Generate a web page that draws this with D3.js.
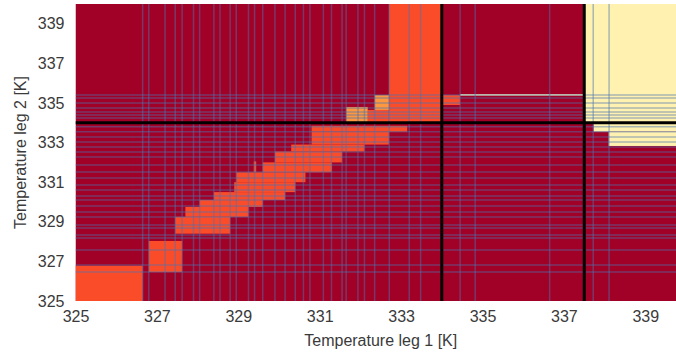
<!DOCTYPE html>
<html>
<head>
<meta charset="utf-8">
<script src="https://cdn.jsdelivr.net/npm/d3@7"></script>
<style>
  html, body { margin: 0; padding: 0; background: #ffffff; }
  svg { display: block; }
  text { font-family: "Liberation Sans", Arial, sans-serif; fill: #3a3a3a; }
</style>
</head>
<body>
<svg id="chart" width="676" height="356"></svg>
<script>
// Temperature ranges of the two legs [K]
const xDomain = [325, 340];
const yDomain = [325, 340];
const xTicks = [325, 327, 329, 331, 333, 335, 337, 339];
const yTicks = [325, 327, 329, 331, 333, 335, 337, 339];

// Operating-state levels and their colours
const levels = ["low", "mid", "high", "top"];
const levelColors = ["#a10027", "#fb4c2a", "#fd9840", "#fff2b0"];

// Mesh cell boundaries of the sampled grid [K]
const xEdges = [326.65, 326.8, 327.2, 327.45, 327.62, 327.9, 328.05, 328.4, 328.55, 328.8,
  328.95, 329.25, 329.4, 329.6, 329.9, 330.15, 330.4, 330.6, 330.76, 331.09, 331.29,
  331.55, 331.65, 331.94, 332.1, 332.35, 332.71, 333.2, 333.48, 334.45, 334.82,
  336.65, 337.72, 338.11];
const yEdges = [335.4, 335.25, 335.0, 334.75, 334.55, 334.4, 334.24, 333.8, 333.55,
  333.28, 333.03, 332.78, 332.53, 332.27, 331.87, 331.52, 331.21, 330.86, 330.61,
  330.3, 330.1, 329.8, 329.49, 329.24, 328.84, 328.69, 328.33, 328.18, 327.58,
  326.82, 326.46];

// Regions of constant state: [x0, x1, y0, y1, level]
const regions = [
  [325, 340, 325, 340, "low"],
  [325, 326.65, 325, 326.78, "mid"],
  [326.8, 327.62, 326.46, 328.03, "mid"],
  [327.45, 328.8, 328.4, 329.25, "mid"],
  [327.7, 329.25, 329.25, 329.75, "mid"],
  [328.05, 329.6, 329.75, 330.1, "mid"],
  [328.4, 330.15, 330.1, 330.5, "mid"],
  [328.9, 330.4, 330.5, 331.0, "mid"],
  [328.95, 330.65, 331.0, 331.5, "mid"],
  [329.6, 331.3, 331.5, 332.0, "mid"],
  [329.38, 329.44, 331.5, 332.05, "mid"],
  [329.9, 331.55, 332.0, 332.55, "mid"],
  [330.3, 332.1, 332.55, 332.9, "mid"],
  [330.8, 332.7, 332.9, 333.55, "mid"],
  [330.8, 333.15, 333.55, 333.85, "mid"],
  [332.7, 334, 334, 340, "mid"],
  [332.18, 332.7, 334, 334.65, "mid"],
  [332.35, 332.7, 334.65, 335.4, "high"],
  [331.65, 332.18, 334, 334.8, "high"],
  [334, 334.45, 334.9, 335.4, "mid"],
  [334.45, 337.5, 335.37, 335.45, "top"],
  [337.5, 340, 334, 340, "top"],
  [337.73, 340, 333.55, 334, "top"],
  [338.1, 340, 332.83, 333.55, "top"]
];

// State boundaries (thick lines)
const boundaryX = [334, 337.5];
const boundaryY = [334];

const svg = d3.select("#chart");
const x = d3.scaleLinear().domain(xDomain).range([75.5, 686]);
const y = d3.scaleLinear().domain(yDomain).range([301, 4]);
const color = d3.scaleOrdinal().domain(levels).range(levelColors);

svg.append("clipPath").attr("id", "plot-clip")
  .append("rect")
  .attr("x", x(xDomain[0])).attr("y", y(yDomain[1]))
  .attr("width", x(xDomain[1]) - x(xDomain[0]))
  .attr("height", y(yDomain[0]) - y(yDomain[1]));

const plot = svg.append("g").attr("clip-path", "url(#plot-clip)");

plot.selectAll("rect.cell")
  .data(regions)
  .join("rect")
  .attr("class", "cell")
  .attr("x", d => x(d[0]))
  .attr("y", d => y(d[3]))
  .attr("width", d => x(d[1]) - x(d[0]))
  .attr("height", d => y(d[2]) - y(d[3]))
  .attr("fill", d => color(d[4]));

// mesh edges
const edgeStyle = sel => sel
  .attr("stroke", "#4c72b0")
  .attr("stroke-opacity", 0.48)
  .attr("stroke-width", 1.5);

plot.selectAll("line.vedge")
  .data(xEdges)
  .join("line")
  .attr("class", "vedge")
  .attr("x1", d => x(d)).attr("x2", d => x(d))
  .attr("y1", y(yDomain[0])).attr("y2", y(yDomain[1]))
  .call(edgeStyle);

plot.selectAll("line.hedge")
  .data(yEdges)
  .join("line")
  .attr("class", "hedge")
  .attr("y1", d => y(d)).attr("y2", d => y(d))
  .attr("x1", x(xDomain[0])).attr("x2", x(xDomain[1]))
  .call(edgeStyle);

// state boundaries
plot.selectAll("line.bx")
  .data(boundaryX)
  .join("line")
  .attr("x1", d => x(d)).attr("x2", d => x(d))
  .attr("y1", y(yDomain[0])).attr("y2", y(yDomain[1]))
  .attr("stroke", "#000").attr("stroke-width", 3);

plot.selectAll("line.by")
  .data(boundaryY)
  .join("line")
  .attr("y1", d => y(d)).attr("y2", d => y(d))
  .attr("x1", x(xDomain[0])).attr("x2", x(xDomain[1]))
  .attr("stroke", "#000").attr("stroke-width", 3);

// axes
const xAxis = svg.append("g")
  .attr("transform", `translate(0,${y(yDomain[0])})`)
  .call(d3.axisBottom(x).tickValues(xTicks).tickSize(0).tickPadding(10).tickFormat(d3.format("d")));
const yAxis = svg.append("g")
  .attr("transform", `translate(${x(xDomain[0])},0)`)
  .call(d3.axisLeft(y).tickValues(yTicks).tickSize(0).tickPadding(11).tickFormat(d3.format("d")));
[xAxis, yAxis].forEach(a => {
  a.select(".domain").remove();
  a.selectAll("text").attr("font-size", 16).attr("fill", "#3a3a3a")
    .attr("font-family", "'Liberation Sans', Arial, sans-serif");
});

svg.append("text")
  .attr("x", (x(xDomain[0]) + x(xDomain[1])) / 2)
  .attr("y", 346)
  .attr("text-anchor", "middle")
  .attr("font-size", 16)
  .text("Temperature leg 1 [K]");

svg.append("text")
  .attr("transform", `translate(26,${(y(yDomain[0]) + y(yDomain[1])) / 2}) rotate(-90)`)
  .attr("text-anchor", "middle")
  .attr("font-size", 16)
  .text("Temperature leg 2 [K]");
</script>
</body>
</html>
